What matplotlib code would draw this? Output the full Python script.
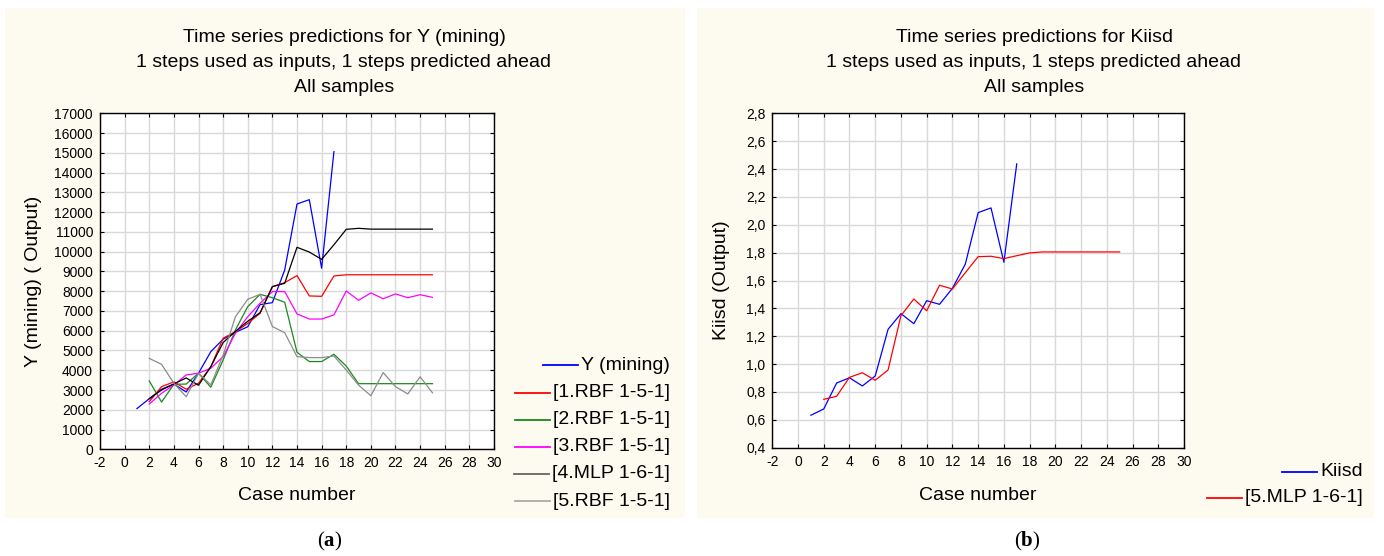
import matplotlib
matplotlib.use('Agg')
import matplotlib.pyplot as plt
from matplotlib.lines import Line2D
from matplotlib.patches import Rectangle
from matplotlib.ticker import MultipleLocator, FuncFormatter

plt.rcParams['font.family'] = ['Liberation Sans', 'DejaVu Sans']
plt.rcParams['axes.unicode_minus'] = False
plt.rcParams['mathtext.fontset'] = 'custom'
plt.rcParams['mathtext.rm'] = 'Liberation Serif'
plt.rcParams['mathtext.bf'] = 'Liberation Serif:bold'

# ---------------- data ----------------
cases_obs = list(range(1, 18))
cases_pred = list(range(2, 26))

y_mining = [2060, 2560, 3040, 3300, 2900, 3850, 4940, 5570, 5920, 6200,
            7320, 7420, 9070, 12410, 12630, 9160, 15060]
rbf1 = [2410, 3170, 3410, 3040, 3340, 4180, 5620, 5950, 6370, 6880, 8230, 8430,
        8790, 7760, 7740, 8770, 8830, 8830, 8830, 8830, 8830, 8830, 8830, 8830]
rbf2 = [3460, 2390, 3290, 3300, 3850, 3140, 4520, 6040, 7220, 7840, 7670, 7440,
        4910, 4440, 4440, 4810, 4210, 3320, 3320, 3320, 3320, 3320, 3320, 3320]
rbf3 = [2290, 2830, 3260, 3760, 3850, 4100, 4690, 5870, 6710, 7390, 7980, 7980,
        6850, 6590, 6590, 6800, 8010, 7540, 7910, 7620, 7860, 7670, 7820, 7690]
mlp4 = [2560, 3000, 3310, 3610, 3240, 4180, 5400, 5970, 6480, 6910, 8230, 8400,
        10220, 9980, 9610, 10350, 11130, 11180, 11140, 11140, 11140, 11140, 11140, 11140]
rbf5 = [4600, 4300, 3340, 2660, 3850, 3260, 4770, 6710, 7590, 7840, 6210, 5900,
        4690, 4640, 4640, 4720, 4010, 3250, 2710, 3880, 3170, 2800, 3670, 2860]

kiisd = [0.633, 0.678, 0.864, 0.902, 0.843, 0.915, 1.250, 1.362, 1.290, 1.455,
         1.429, 1.544, 1.717, 2.087, 2.121, 1.731, 2.437]
mlp5 = [0.747, 0.769, 0.905, 0.938, 0.884, 0.958, 1.348, 1.467, 1.383, 1.566,
        1.539, 1.656, 1.771, 1.774, 1.757, 1.778, 1.798, 1.805, 1.805, 1.805,
        1.805, 1.805, 1.805, 1.805]

labels_a = ['Y (mining)', '[1.RBF 1-5-1]', '[2.RBF 1-5-1]', '[3.RBF 1-5-1]',
            '[4.MLP 1-6-1]', '[5.RBF 1-5-1]']
labels_b = ['Kiisd', '[5.MLP 1-6-1]']
title_a = ['Time series predictions for Y (mining)',
           '1 steps used as inputs, 1 steps predicted ahead', 'All samples']
title_b = ['Time series predictions for Kiisd',
           '1 steps used as inputs, 1 steps predicted ahead', 'All samples']

# ---------------- figure ----------------
W, H = 1384, 556
fig = plt.figure(figsize=(W / 100, H / 100), dpi=100)
fig.patch.set_facecolor('white')
cream = '#fdfaf0'


def px(x, y):
    return x / W, 1 - y / H


for (x0, x1) in [(5, 685), (697, 1374)]:
    fig.add_artist(Rectangle(px(x0, 518), (x1 - x0) / W, 510 / H,
                             transform=fig.transFigure, facecolor=cream,
                             edgecolor='none', zorder=0))

c_blue, c_red, c_green, c_mag, c_blk, c_gray = '#0000ff', '#ff0000', '#1a8a1a', '#ff00ff', '#000000', '#8c8c8c'
lw = 0.9


def style_axes(ax):
    ax.set_facecolor('white')
    ax.grid(True, color='#d9d9d9', lw=1.0)
    ax.set_axisbelow(True)
    ax.tick_params(direction='in', length=3, width=0.8, top=True, right=True,
                   labelsize=10, pad=5, color='black')
    for s in ax.spines.values():
        s.set_color('black')
        s.set_linewidth(1.0)
    ax.xaxis.set_major_locator(MultipleLocator(2))
    ax.set_xlim(-2, 30)


# Panel a
axa = fig.add_axes([100 / W, 1 - 449.3 / H, 394 / W, 336 / H])
style_axes(axa)
axa.set_ylim(0, 17000)
axa.yaxis.set_major_locator(MultipleLocator(1000))
axa.plot(cases_obs, y_mining, color=c_blue, lw=lw)
axa.plot(cases_pred, rbf1, color=c_red, lw=lw)
axa.plot(cases_pred, rbf2, color=c_green, lw=lw)
axa.plot(cases_pred, rbf3, color=c_mag, lw=lw)
axa.plot(cases_pred, mlp4, color=c_blk, lw=lw)
axa.plot(cases_pred, rbf5, color=c_gray, lw=lw)
axa.set_xlabel('Case number', fontsize=14)
axa.xaxis.label.set_va('center')
axa.xaxis.set_label_coords(0.5, (449.3 - 496) / 336)
axa.set_ylabel('Y (mining) ( Output)', fontsize=14)
axa.yaxis.label.set_va('center')
axa.yaxis.set_label_coords((33 - 100) / 394, 0.5)

# Panel b
axb = fig.add_axes([772.3 / W, 1 - 447.7 / H, 411.7 / W, 334.4 / H])
style_axes(axb)
axb.set_ylim(0.4, 2.8)
axb.yaxis.set_major_locator(MultipleLocator(0.2))
axb.yaxis.set_major_formatter(FuncFormatter(lambda v, p: f'{v:.1f}'.replace('.', ',')))
axb.plot(cases_obs, kiisd, color=c_blue, lw=lw)
axb.plot(cases_pred, mlp5, color=c_red, lw=lw)
axb.set_xlabel('Case number', fontsize=14)
axb.xaxis.label.set_va('center')
axb.xaxis.set_label_coords(0.5, (447.7 - 496) / 334.4)
axb.set_ylabel('Kiisd (Output)', fontsize=14)
axb.yaxis.label.set_va('center')
axb.yaxis.set_label_coords((721 - 772.3) / 411.7, 0.5)

# Titles
for xc, lines in [(344, title_a), (1034, title_b)]:
    for yy, t in zip([37, 62.5, 88], lines):
        fig.text(*px(xc, yy), t, ha='center', va='center', fontsize=14)

# Manual legends (right-aligned text, line sample before text)
renderer = fig.canvas.get_renderer()


def legend(xr, ys, labels, colors):
    for yy, lab, col in zip(ys, labels, colors):
        t = fig.text(*px(xr, yy), lab, ha='right', va='center', fontsize=14)
        bb = t.get_window_extent(renderer)
        xl = bb.x0
        fig.add_artist(Line2D([(xl - 38) / W, (xl - 3) / W], [1 - yy / H, 1 - yy / H],
                              transform=fig.transFigure, color=col, lw=1.3))


legend(670, [365, 392.5, 419.5, 446.5, 473.5, 501], labels_a,
       [c_blue, c_red, c_green, c_mag, '#666666', '#aaaaaa'])
legend(1363, [471.5, 498], labels_b, [c_blue, c_red])

# Captions
fig.text(*px(330, 541), r'($\mathbf{a}$)', ha='center', va='center', fontsize=15,
         family=['Liberation Serif', 'DejaVu Serif'])
fig.text(*px(1027, 541), r'($\mathbf{b}$)', ha='center', va='center', fontsize=15,
         family=['Liberation Serif', 'DejaVu Serif'])

fig.savefig('out.png', dpi=100, facecolor='white')
